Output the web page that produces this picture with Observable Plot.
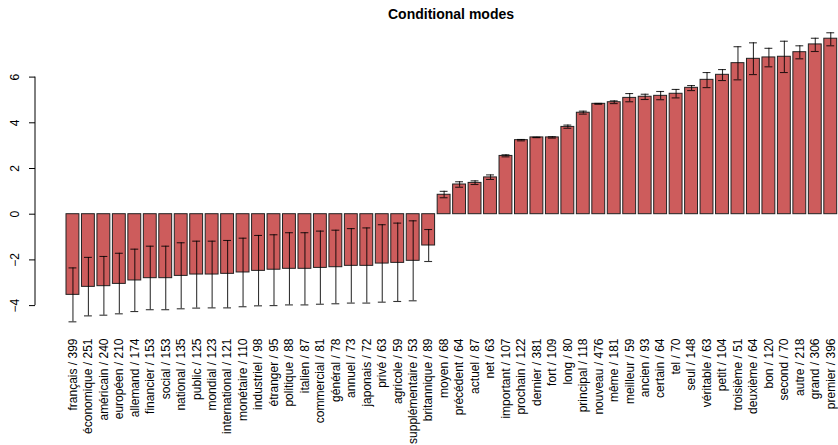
<!DOCTYPE html>
<html>
<head>
<meta charset="utf-8">
<script src="https://cdn.jsdelivr.net/npm/d3@7"></script>
<script src="https://cdn.jsdelivr.net/npm/@observablehq/plot@0.6"></script>
<style>
  html, body { margin: 0; padding: 0; background: #fff; overflow: hidden; }
  #wrap { position: relative; width: 838px; height: 445px; overflow: hidden; }
  #title { position: absolute; top: 6px; left: 0; width: 902px; text-align: center;
           font: bold 14px "Liberation Sans", Arial, Helvetica, sans-serif; line-height: 16px; color: #000; }
</style>
</head>
<body>
<div id="wrap">
  <div id="title">Conditional modes</div>
  <div id="chart"></div>
</div>
<script>
const words = ["français","économique","américain","européen","allemand","financier","social","national","public","mondial",
  "international","monétaire","industriel","étranger","politique","italien","commercial","général","annuel","japonais",
  "privé","agricole","supplémentaire","britannique","moyen","précédent","actuel","net","important","prochain",
  "dernier","fort","long","principal","nouveau","même","meilleur","ancien","certain","tel",
  "seul","véritable","petit","troisième","deuxième","bon","second","autre","grand","premier"];
const counts = [399,251,240,210,174,153,153,135,125,123,
  121,110,98,95,88,87,81,78,73,72,
  63,59,53,89,68,64,87,63,107,122,
  381,109,80,118,476,181,59,93,64,70,
  148,63,104,51,64,120,70,218,306,396];
const modes = [-3.53,-3.18,-3.15,-3.05,-2.90,-2.80,-2.80,-2.70,-2.64,-2.64,
  -2.61,-2.55,-2.48,-2.43,-2.39,-2.39,-2.35,-2.32,-2.26,-2.26,
  -2.16,-2.13,-2.04,-1.37,0.85,1.30,1.37,1.61,2.55,3.24,
  3.36,3.36,3.82,4.44,4.83,4.90,5.09,5.14,5.18,5.27,
  5.53,5.88,6.10,6.61,6.80,6.86,6.89,7.09,7.43,7.68];
const upper = [-2.35,-1.89,-1.85,-1.71,-1.53,-1.40,-1.40,-1.25,-1.18,-1.18,
  -1.15,-1.05,-0.93,-0.90,-0.81,-0.81,-0.74,-0.70,-0.63,-0.60,
  -0.46,-0.39,-0.29,-0.67,1.00,1.42,1.46,1.72,2.60,3.27,
  3.37,3.39,3.90,4.51,4.85,4.96,5.28,5.25,5.37,5.46,
  5.63,6.20,6.33,7.33,7.50,7.26,7.57,7.37,7.70,7.94];
const lower = [-4.71,-4.45,-4.42,-4.36,-4.26,-4.18,-4.18,-4.14,-4.11,-4.10,
  -4.10,-4.05,-4.01,-4.00,-3.97,-3.97,-3.94,-3.92,-3.89,-3.89,
  -3.85,-3.82,-3.79,-2.07,0.72,1.18,1.30,1.52,2.51,3.21,
  3.35,3.33,3.76,4.38,4.81,4.84,4.92,5.02,5.01,5.09,
  5.41,5.54,5.85,5.88,6.11,6.45,6.20,6.80,7.12,7.37];
const yTicks = [-4, -2, 0, 2, 4, 6];

const data = words.map((w, i) => ({
  label: `${w} / ${counts[i]}`, mode: modes[i], lo: lower[i], hi: upper[i]
}));
const labels = data.map(d => d.label);

const font = '"Liberation Sans", Arial, Helvetica, sans-serif';

const yAxisLine = (index, scales, values, dims) => {
  const g = document.createElementNS("http://www.w3.org/2000/svg", "line");
  const x = dims.marginLeft;
  g.setAttribute("x1", x); g.setAttribute("x2", x);
  g.setAttribute("y1", scales.y(d3.min(yTicks))); g.setAttribute("y2", scales.y(d3.max(yTicks)));
  g.setAttribute("stroke", "#000"); g.setAttribute("stroke-width", "1");
  return g;
};

const chart = Plot.plot({
  width: 838,
  height: 445,
  marginLeft: 35,
  marginRight: 1,
  marginTop: 0,
  marginBottom: 109,
  style: { fontFamily: font, fontSize: "12px", background: "#fff", color: "#000" },
  x: { type: "band", domain: labels, range: [66, 836.7], paddingInner: 0.2 / 1.2, paddingOuter: 0, round: false, label: null },
  y: { domain: [-4, 6], range: [305.1, 76.6], label: null },
  marks: [
    Plot.barY(data, { x: "label", y1: 0, y2: "mode", fill: "#CD5C5C", stroke: "#222", strokeWidth: 1 }),
    Plot.ruleX(data, { x: "label", y1: "lo", y2: "hi", stroke: "#000", strokeOpacity: 0.8, strokeWidth: 1.1 }),
    Plot.tickY(data, { x: "label", y: "lo", stroke: "#000", strokeOpacity: 0.8, strokeWidth: 1.1, insetLeft: 2.5, insetRight: 2.5 }),
    Plot.tickY(data, { x: "label", y: "hi", stroke: "#000", strokeOpacity: 0.8, strokeWidth: 1.1, insetLeft: 2.5, insetRight: 2.5 }),
    Plot.axisY({ ticks: yTicks, tickSize: 6, tickFormat: () => "", anchor: "left" }),
    yAxisLine,
    Plot.text(yTicks, { y: d => d, text: d => (d < 0 ? "\u2212" + Math.abs(d) : String(d)), frameAnchor: "left",
      dx: -20, rotate: -90, textAnchor: "middle", lineAnchor: "middle", fontSize: 12, fill: "#000" }),
    Plot.axisX({ anchor: "bottom", tickSize: 0, tickPadding: 2, tickRotate: -90, fontSize: 12, label: null })
  ]
});
document.getElementById("chart").appendChild(chart);
</script>
</body>
</html>
